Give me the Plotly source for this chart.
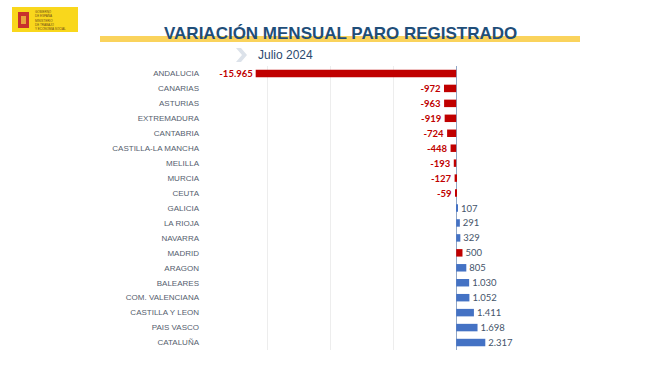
import plotly.graph_objects as go

regions = ["ANDALUCIA", "CANARIAS", "ASTURIAS", "EXTREMADURA", "CANTABRIA",
           "CASTILLA-LA MANCHA", "MELILLA", "MURCIA", "CEUTA", "GALICIA",
           "LA RIOJA", "NAVARRA", "MADRID", "ARAGON", "BALEARES",
           "COM. VALENCIANA", "CASTILLA Y LEON", "PAIS VASCO", "CATALUÑA"]
values = [-15965, -972, -963, -919, -724, -448, -193, -127, -59, 107,
          291, 329, 500, 805, 1030, 1052, 1411, 1698, 2317]
title_text = "VARIACIÓN MENSUAL PARO REGISTRADO"
subtitle_text = "Julio 2024"

RED = "#C00000"
BLUE = "#4472C4"

def fmt(v):
    s = f"{abs(v):,}".replace(",", ".")
    return ("<b>-" + s + "</b>") if v < 0 else s

bar_colors = [RED if (v < 0 or r == "MADRID") else BLUE for r, v in zip(regions, values)]
text_colors = [RED if v < 0 else "#44546A" for v in values]
texts = [fmt(v) for v in values]

W, H = 659, 371
L, R, T, B = 205, 140, 66, 21
PW, PH = W - L - R, H - T - B

def px(x):
    return (x - L) / PW

def py(y):
    return (H - B - y) / PH

fig = go.Figure(go.Bar(
    y=regions, x=values, orientation="h",
    marker=dict(color=bar_colors, line=dict(width=0)),
    text=texts, textposition="outside", cliponaxis=False, constraintext="none",
    textfont=dict(color=text_colors, size=9.5, family="Lato"),
    width=0.5,
))

fig.update_layout(
    width=W, height=H,
    margin=dict(l=L, r=R, t=T, b=B),
    paper_bgcolor="white", plot_bgcolor="white",
    showlegend=False,
    xaxis=dict(range=[-20000, 5000], tickvals=[-20000, -15000, -10000, -5000, 0, 5000],
               showticklabels=False, showgrid=True, gridcolor="#EDEDED", gridwidth=1,
               zeroline=True, zerolinecolor="#8FA6C6", zerolinewidth=1, showline=False,
               fixedrange=True),
    yaxis=dict(autorange="reversed", showgrid=False, zeroline=False, showline=False,
               ticks="", ticklabelstandoff=5,
               tickfont=dict(size=8, color="#55606E", family="Liberation Sans")),
)

shapes = []
shapes.append(dict(type="rect", xref="paper", yref="paper",
                   x0=px(100), x1=px(580), y0=py(42), y1=py(36),
                   fillcolor="#FAD35C", line=dict(width=0), layer="below"))
cx, cy = 236, 55
path = (f"M {px(cx)} {py(cy-7)} L {px(cx+5)} {py(cy-7)} L {px(cx+11)} {py(cy)} "
        f"L {px(cx+5)} {py(cy+7)} L {px(cx)} {py(cy+7)} L {px(cx+6)} {py(cy)} Z")
shapes.append(dict(type="path", xref="paper", yref="paper", path=path,
                   fillcolor="#DCE2EA", line=dict(width=0)))
shapes.append(dict(type="rect", xref="paper", yref="paper",
                   x0=px(12), x1=px(78), y0=py(32), y1=py(7),
                   fillcolor="#F9D71C", line=dict(width=0)))
shapes.append(dict(type="rect", xref="paper", yref="paper",
                   x0=px(18), x1=px(29), y0=py(28), y1=py(12),
                   fillcolor="#C8302C", line=dict(width=0)))
shapes.append(dict(type="rect", xref="paper", yref="paper",
                   x0=px(21), x1=px(26), y0=py(24), y1=py(16),
                   fillcolor="#E9A23B", line=dict(width=0)))
fig.update_layout(shapes=shapes)

annotations = [
    dict(text=f"<b>{title_text}</b>", xref="paper", yref="paper",
         x=px(340), y=py(33), xanchor="center", yanchor="middle", showarrow=False,
         font=dict(size=17, color="#1F4E79", family="Liberation Sans")),
    dict(text=subtitle_text, xref="paper", yref="paper",
         x=px(285), y=py(55), xanchor="center", yanchor="middle", showarrow=False,
         font=dict(size=12, color="#2B4A6F", family="Liberation Sans")),
    dict(text="GOBIERNO<br>DE ESPAÑA", xref="paper", yref="paper",
         x=px(33), y=py(14), xanchor="left", yanchor="middle", showarrow=False,
         align="left", font=dict(size=3, color="#6B4A1A", family="Liberation Sans")),
    dict(text="MINISTERIO<br>DE TRABAJO<br>Y ECONOMÍA SOCIAL", xref="paper", yref="paper",
         x=px(33), y=py(25), xanchor="left", yanchor="middle", showarrow=False,
         align="left", font=dict(size=3, color="#6B4A1A", family="Liberation Sans")),
]
fig.update_layout(annotations=annotations)

fig.write_html("out.html", config={"displayModeBar": False},
               post_script="document.body.style.margin='0';document.body.style.padding='0';")
